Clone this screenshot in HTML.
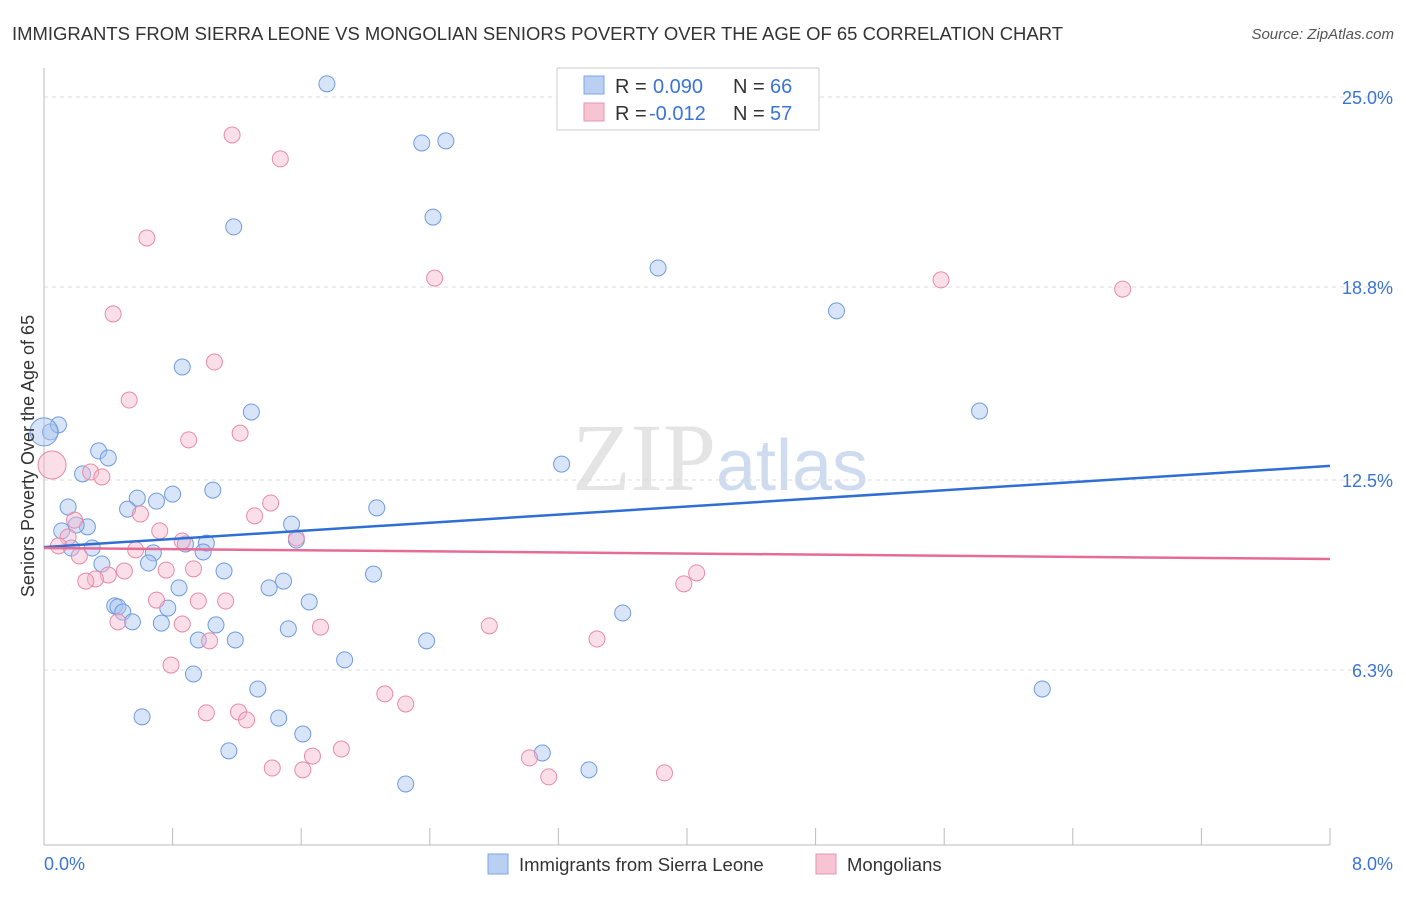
<!DOCTYPE html>
<html><head><meta charset="utf-8"><style>
body{margin:0;background:#fff;font-family:"Liberation Sans",sans-serif}
#wrap{position:relative;width:1406px;height:892px}
</style></head><body>
<div id="wrap">
<svg id="svg" width="1406" height="892" xmlns="http://www.w3.org/2000/svg">
<text x="12" y="40" font-size="18" fill="#333" textLength="1051" lengthAdjust="spacingAndGlyphs">IMMIGRANTS FROM SIERRA LEONE VS MONGOLIAN SENIORS POVERTY OVER THE AGE OF 65 CORRELATION CHART</text>
<text x="1394" y="39" font-size="15" fill="#555" font-style="italic" text-anchor="end">Source: ZipAtlas.com</text>
<text x="720" y="490" font-size="96" fill="#e4e4e4" text-anchor="middle" font-family="Liberation Serif">ZIP<tspan fill="#cfdcf0" font-family="Liberation Sans" font-size="72">atlas</tspan></text>
<g id="grid"></g><g id="axes"></g><g id="marks"></g>
<text transform="translate(34,456) rotate(-90)" font-size="18" fill="#333" text-anchor="middle">Seniors Poverty Over the Age of 65</text>
<g>
<rect x="557" y="68" width="262" height="62" fill="#fff" stroke="#ccc"/>
<rect x="584" y="76" width="20" height="18" fill="#b9d0f3" stroke="#7ea6e6"/>
<text x="615" y="93" font-size="20" fill="#333">R =</text>
<text x="653" y="93" font-size="20" fill="#3a74d6">0.090</text>
<text x="733" y="93" font-size="20" fill="#333">N =</text>
<text x="770" y="93" font-size="20" fill="#3a74d6">66</text>
<rect x="584" y="103" width="20" height="18" fill="#f7c4d4" stroke="#ea93b0"/>
<text x="615" y="120" font-size="20" fill="#333">R =</text>
<text x="649" y="120" font-size="20" fill="#3a74d6">-0.012</text>
<text x="733" y="120" font-size="20" fill="#333">N =</text>
<text x="770" y="120" font-size="20" fill="#3a74d6">57</text>
</g>
<g>
<rect x="488" y="854" width="20" height="20" fill="#b9d0f3" stroke="#7ea6e6"/>
<text x="519" y="871" font-size="18.5" fill="#333">Immigrants from Sierra Leone</text>
<rect x="816" y="854" width="20" height="20" fill="#f7c4d4" stroke="#ea93b0"/>
<text x="847" y="871" font-size="18.5" fill="#333">Mongolians</text>
</g>
</svg></div>
<script>
const yTicks=[25.0,18.8,12.5,6.3];
const yTickLabels=["25.0%","18.8%","12.5%","6.3%"];
const xTickCount=10;
const xMin=0,xMax=8,yMin=0,yMax=25;
const blueX=[1.76,2.35,2.50,2.42,1.18,3.82,4.93,0.86,1.29,5.82,0.04,0.09,0.34,0.40,0.24,3.22,1.05,0.80,0.58,0.70,0.52,2.07,0.15,1.54,0.11,0.27,0.20,1.01,0.88,1.57,0.30,0.17,0.68,0.99,0.65,0.36,1.12,2.05,1.49,0.84,1.40,1.65,0.44,0.46,0.77,0.49,0.55,0.73,3.60,1.07,1.52,0.96,1.19,2.38,1.87,0.93,1.33,6.21,0.61,1.46,1.61,1.15,3.10,3.39,2.25,0.0];
const blueY=[25.43,23.50,23.57,21.08,20.76,19.42,18.02,16.19,14.72,14.75,14.07,14.30,13.45,13.22,12.70,13.02,12.17,12.04,11.91,11.81,11.55,11.59,11.62,11.06,10.84,10.97,11.03,10.44,10.41,10.54,10.28,10.28,10.12,10.15,9.79,9.76,9.53,9.43,9.20,8.98,8.98,8.52,8.39,8.36,8.32,8.19,7.87,7.83,8.16,7.77,7.64,7.28,7.28,7.25,6.63,6.17,5.68,5.68,4.77,4.73,4.21,3.66,3.59,3.04,2.58,14.07];
const pinkX=[1.17,1.47,0.64,2.43,5.58,6.71,0.43,1.06,0.53,0.90,1.22,0.05,0.29,0.36,1.41,0.60,1.31,0.72,0.19,0.15,0.09,0.86,1.57,0.57,0.22,0.76,0.50,0.93,0.40,0.32,0.26,4.06,3.98,0.70,1.13,0.96,0.86,0.46,1.72,2.77,3.44,1.03,0.79,2.12,2.25,1.01,1.21,1.26,1.85,1.67,3.02,1.42,1.61,3.14,3.86];
const pinkY=[23.76,22.98,20.40,19.09,19.03,18.73,17.92,16.35,15.11,13.81,14.03,12.99,12.76,12.60,11.75,11.39,11.33,10.84,11.19,10.64,10.35,10.51,10.61,10.22,10.02,9.56,9.53,9.60,9.40,9.27,9.20,9.47,9.11,8.58,8.55,8.55,7.80,7.87,7.70,7.74,7.31,7.25,6.46,5.52,5.19,4.90,4.93,4.67,3.72,3.49,3.43,3.10,3.04,2.81,2.94];
const blueTrend=[10.31,12.96];
const pinkTrend=[10.28,9.92];
const NS="http://www.w3.org/2000/svg";
const L=44,R=1330,T=97,PB=863;
const sx=v=>L+(v-xMin)/(xMax-xMin)*(R-L);
const sy=v=>PB-(v-yMin)/(yMax-yMin)*(PB-T);
function mk(tag,attrs,parent){const e=document.createElementNS(NS,tag);for(const k in attrs)e.setAttribute(k,attrs[k]);document.getElementById(parent).appendChild(e);return e;}
yTicks.forEach((t,i)=>{
 const g=mk('line',{x1:L,x2:1392,y1:sy(t),y2:sy(t),stroke:'#ddd','stroke-dasharray':'4,4'},'grid');
 
 
 const tx=mk('text',{x:1393,y:sy(t)+7,'font-size':18,fill:'#3a74d6','text-anchor':'end'},'axes');
 tx.textContent=yTickLabels[i];
 
 
});
const ax=mk('line',{x1:L,x2:L,y1:68,y2:845,stroke:'#bbb'},'axes');


const bx=mk('line',{x1:L,x2:R,y1:845,y2:845,stroke:'#bbb'},'axes');


for(let i=0;i<=xTickCount;i++){
 const x=sx(xMin+i*(xMax-xMin)/xTickCount);
 const tk=mk('line',{x1:x,x2:x,y1:828,y2:845,stroke:'#bbb'},'axes');
 
 
}
const xl0=mk('text',{x:44,y:870,'font-size':18,fill:'#3a74d6'},'axes');xl0.textContent='0.0%';


const xl1=mk('text',{x:1393,y:870,'font-size':18,fill:'#3a74d6','text-anchor':'end'},'axes');xl1.textContent='8.0%';


function pts(xs,ys,fill,stroke,name){
 xs.forEach((v,i)=>{
  const big=(v<0.06&&name==='blue'&&i===xs.length-1)||(v<0.06&&name==='pink');
  const c=mk('circle',{cx:sx(v),cy:sy(ys[i]),r:big?14:8,fill:fill,'fill-opacity':0.45,stroke:stroke,'stroke-width':1},'marks');
  
  
 });
}
pts(blueX,blueY,'#a9c4ef','#6f9be0','blue');
pts(pinkX,pinkY,'#f4b8cb','#e88aa8','pink');
const bl=mk('line',{x1:sx(xMin),x2:sx(xMax),y1:sy(blueTrend[0]),y2:sy(blueTrend[1]),stroke:'#2f6fd4','stroke-width':2.5},'marks');


const pl=mk('line',{x1:sx(xMin),x2:sx(xMax),y1:sy(pinkTrend[0]),y2:sy(pinkTrend[1]),stroke:'#e66b96','stroke-width':2.5},'marks');


</script>
</body></html>
